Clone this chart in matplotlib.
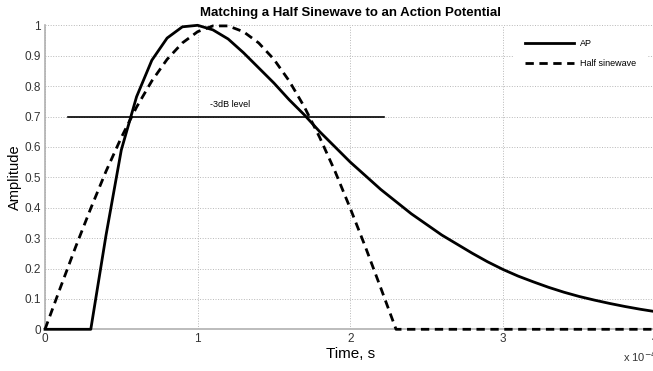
import numpy as np
import matplotlib
matplotlib.use("Agg")
import matplotlib.pyplot as plt

plt.rcParams['font.family'] = ['Liberation Sans', 'DejaVu Sans']

# time axis in units of 1e-4 s
ap_time = [0.0, 0.3, 0.4, 0.5, 0.6, 0.7, 0.8, 0.9, 1.0, 1.1, 1.2, 1.3, 1.4, 1.5,
           1.6, 1.7, 1.8, 1.9, 2.0, 2.1, 2.2, 2.3, 2.4, 2.5, 2.6, 2.7, 2.8, 2.9,
           3.0, 3.1, 3.2, 3.3, 3.4, 3.5, 3.6, 3.7, 3.8, 3.9, 4.0]
ap_amp = [0.0, 0.0, 0.31, 0.59, 0.765, 0.885, 0.958, 0.995, 1.0, 0.985, 0.955,
          0.91, 0.86, 0.81, 0.755, 0.705, 0.65, 0.60, 0.55, 0.505, 0.46, 0.42,
          0.38, 0.345, 0.31, 0.28, 0.25, 0.222, 0.197, 0.175, 0.156, 0.138,
          0.122, 0.108, 0.096, 0.085, 0.075, 0.066, 0.058]

sine_time = [0.0, 0.1, 0.2, 0.3, 0.4, 0.5, 0.6, 0.7, 0.8, 0.9, 1.0, 1.1, 1.2,
             1.3, 1.4, 1.5, 1.6, 1.7, 1.8, 1.9, 2.0, 2.1, 2.2, 2.3, 4.0]
sine_amp = [0.0, 0.136, 0.270, 0.398, 0.520, 0.631, 0.731, 0.817, 0.888, 0.942,
            0.979, 0.998, 0.998, 0.979, 0.942, 0.888, 0.817, 0.731, 0.631,
            0.520, 0.398, 0.270, 0.136, 0.0, 0.0]

level_time = [0.15, 2.22]
level_amp = [0.7, 0.7]

fig = plt.figure(figsize=(6.53, 3.71), dpi=100)
ax = fig.add_axes([45 / 653, 41.7 / 371, 610.5 / 653, 304 / 371])

ax.plot(ap_time, ap_amp, color='black', lw=2.0, label='AP',
        clip_on=False, zorder=4)
ax.plot(sine_time, sine_amp, color='black', lw=2.0, dashes=(3, 2),
        label='Half sinewave', clip_on=False, zorder=4)
ax.plot(level_time, level_amp, color='black', lw=1.2, zorder=4)
ax.text(1.08, 0.738, '-3dB level', fontsize=6.5, va='center', ha='left')

ax.set_xlim(0, 4)
ax.set_ylim(0, 1)
ax.set_xticks([0, 1, 2, 3, 4])
ax.set_yticks(np.arange(0, 1.01, 0.1))
ax.set_yticklabels(['0', '0.1', '0.2', '0.3', '0.4', '0.5', '0.6', '0.7',
                    '0.8', '0.9', '1'])
ax.tick_params(length=0, labelsize=8.5, colors='#333333', pad=3)
ax.grid(True, linestyle=':', color='#b8b8b8', lw=0.7)
for s in ['top', 'right']:
    ax.spines[s].set_visible(False)
for s in ['left', 'bottom']:
    ax.spines[s].set_color('#b0b0b0')
    ax.spines[s].set_linewidth(1.2)

ax.set_title('Matching a Half Sinewave to an Action Potential', fontsize=9.5,
             fontweight='bold', pad=7)
ax.set_xlabel('Time, s', fontsize=11, labelpad=1)
ax.set_ylabel('Amplitude', fontsize=10.5, labelpad=2)

leg = ax.legend(loc='upper left', bbox_to_anchor=(514 / 653, 1 - 28 / 371),
                bbox_transform=fig.transFigure, fontsize=6.5, frameon=True,
                fancybox=False, edgecolor='none', facecolor='white',
                framealpha=1, handlelength=5.4, labelspacing=1.2,
                borderpad=1.2, handletextpad=0.7, borderaxespad=0)
leg.set_zorder(5)

fig.text(623 / 653, 1 - 357 / 371, r'x 10$^{-4}$', fontsize=8, color='#333333',
         va='center', ha='left')

fig.savefig('out.png', dpi=100)
